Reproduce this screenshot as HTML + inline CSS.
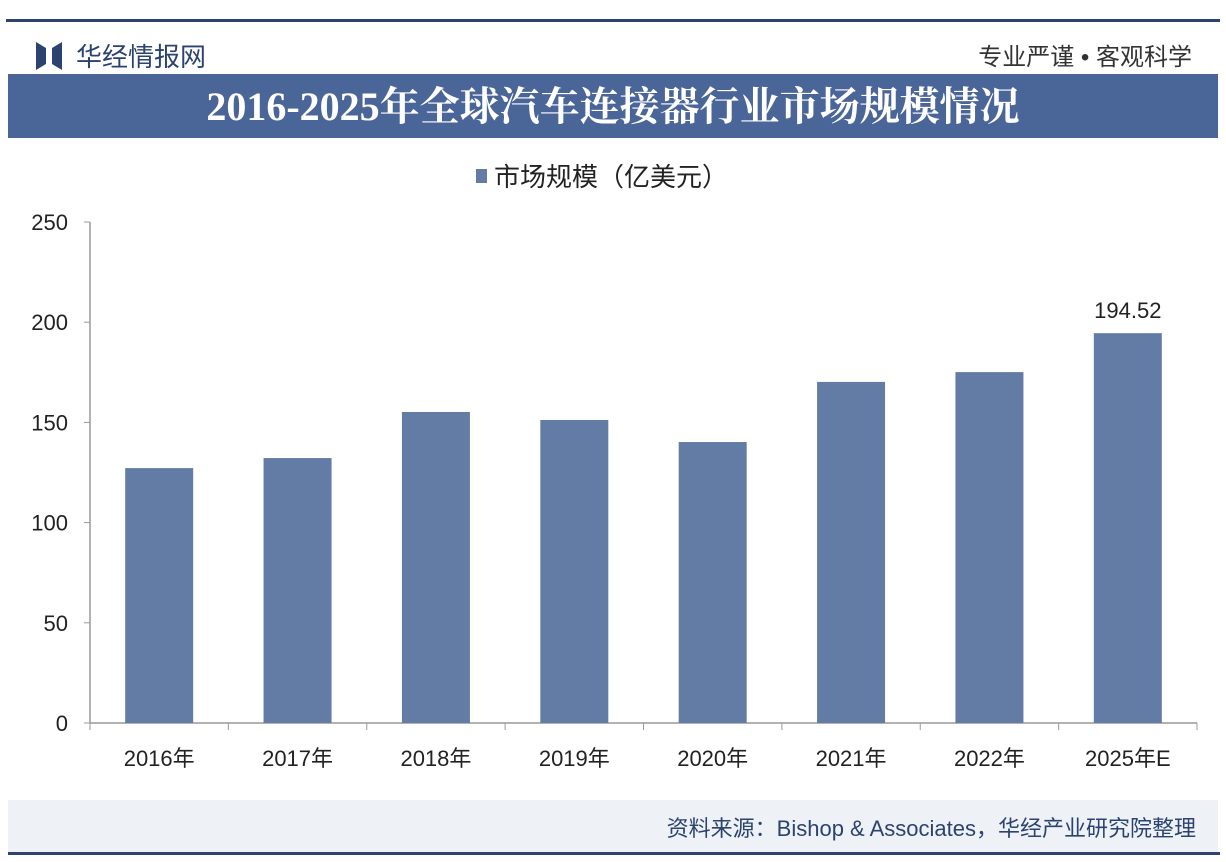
<!DOCTYPE html>
<html><head><meta charset="utf-8"><style>
body{margin:0;width:1226px;height:862px;background:#fff;position:relative;overflow:hidden;font-family:"Liberation Sans","Noto Sans CJK SC",sans-serif}
.abs{position:absolute}
</style></head><body>
<div class="abs" style="left:6px;top:19px;width:1214px;height:3px;background:#2c4370"></div>
<div class="abs" style="left:36px;top:37px;font-size:26px;color:#2c4370;display:flex;align-items:center">
<svg width="26" height="28" viewBox="0 0 26 28" style="margin-right:14px"><path d="M0 0 L10 6 L10 22 L0 28Z M26 0 L16 6 L16 22 L26 28Z" fill="#2c4370"/></svg>
<span>华经情报网</span></div>
<div class="abs" style="right:34px;top:37px;font-size:24px;color:#333">专业严谨 • 客观科学</div>
<div class="abs" style="left:8px;top:74px;width:1210px;height:64px;background:#4a6598;color:#fff;font-family:'Liberation Serif','Noto Serif CJK SC',serif;font-weight:bold;font-size:40px;text-align:center;line-height:66px">2016-2025年全球汽车连接器行业市场规模情况</div>
<div class="abs" style="left:8px;top:800px;width:1210px;height:52px;background:#eef1f6"></div>
<div class="abs" style="left:8px;top:852px;width:1212px;height:3px;background:#2c4370"></div>
<div class="abs" style="right:30px;top:811px;font-size:22px;color:#2c4370">资料来源：Bishop &amp; Associates，华经产业研究院整理</div>
<svg class="abs" style="left:0;top:0" width="1226" height="862" id="chart"></svg>
<script>
const categories=["2016年","2017年","2018年","2019年","2020年","2021年","2022年","2025年E"];
const values=[127.2,132.2,155.2,151.2,140.2,170.2,175.1,194.52];
const yTicks=[0,50,100,150,200,250];
const labeled=["194.52"];
const svg=document.getElementById('chart');const NS="http://www.w3.org/2000/svg";
const x0=90,x1=1197,yBase=723,yTop=222,yMax=250;
const y=v=>yBase-(v/yMax)*(yBase-yTop);
const bw=(x1-x0)/categories.length;
function mk(t,a,txt){const e=document.createElementNS(NS,t);for(const k in a)e.setAttribute(k,a[k]);if(txt!=null)e.textContent=txt;svg.appendChild(e);return e;}
let lg=mk('rect',{x:476,y:169,width:11,height:14,fill:'#637ca5'});


let lt=mk('text',{x:494,y:186,'font-size':26,fill:'#222'},'市场规模（亿美元）');


let ya=mk('line',{x1:x0,y1:yTop,x2:x0,y2:yBase,stroke:'#999','stroke-width':1.5});


yTicks.forEach(t=>{
 let tk=mk('line',{x1:x0-6,y1:y(t),x2:x0,y2:y(t),stroke:'#999'});
 
 
 let tl=mk('text',{x:68,y:y(t)+8,'font-size':22,fill:'#222','text-anchor':'end'},String(t));
 
 
});
let xa=mk('line',{x1:x0,y1:yBase,x2:x1,y2:yBase,stroke:'#999','stroke-width':1.5});


for(let i=0;i<=categories.length;i++){
 let tk=mk('line',{x1:x0+i*bw,y1:yBase,x2:x0+i*bw,y2:yBase+7,stroke:'#999'});
 
 
}
categories.forEach((c,i)=>{
 const cx=x0+(i+0.5)*bw;
 let b=mk('rect',{x:cx-34,y:y(values[i]),width:68,height:yBase-y(values[i]),fill:'#637ca5'});
 
 
 let l=mk('text',{x:cx,y:766,'font-size':22,fill:'#222','text-anchor':'middle'},c);
 
 
 if(labeled.includes(String(values[i]))){
  let v=mk('text',{x:cx,y:y(values[i])-15,'font-size':22,fill:'#222','text-anchor':'middle'},String(values[i]));
  
  
 }
});
</script>
</body></html>
